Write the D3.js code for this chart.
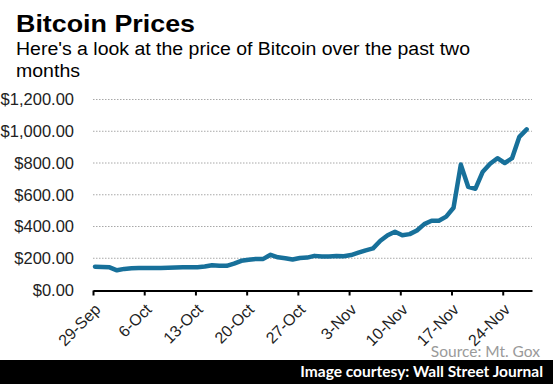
<!DOCTYPE html>
<html>
<head>
<meta charset="utf-8">
<script src="https://cdnjs.cloudflare.com/ajax/libs/d3/7.8.5/d3.min.js"></script>
<style>
  body { margin: 0; background: #fff; }
  svg { display: block; }
</style>
</head>
<body>
<div id="chartId"></div>
<script>
// daily Mt. Gox close, 29-Sep to 27-Nov
var startDate = "2013-09-29";
var prices = [147, 145, 143, 124, 133, 137, 138, 139, 139, 139,
              140, 142, 143, 143, 144, 148, 156, 153, 152, 166,
              184, 190, 196, 196, 222, 206, 200, 192, 202, 204,
              215, 211, 211, 214, 213, 220, 235, 250, 262, 310,
              345, 367, 345, 352, 375, 415, 436, 436, 462, 518,
              790, 650, 638, 745, 795, 830, 800, 830, 965, 1012];
var yTicks = [0, 200, 400, 600, 800, 1000, 1200];
var xTickLabels = ["29-Sep", "6-Oct", "13-Oct", "20-Oct", "27-Oct", "3-Nov", "10-Nov", "17-Nov", "24-Nov"];

var width = 553, height = 384;
var parse = d3.timeParse("%Y-%m-%d");
var t0 = parse(startDate);

var data = prices.map(function(p, i) {
    return { date: d3.timeDay.offset(t0, i), value: p };
});

var svg = d3.select("#chartId").append("svg")
    .attr("width", width)
    .attr("height", height);

var x = d3.scaleTime()
    .domain([t0, d3.timeDay.offset(t0, 60)])
    .range([93, 532]);

var y = d3.scaleLinear()
    .domain([0, 1200])
    .range([290, 99.5]);

// title + subtitle (stretched a little, the original font is wider)
svg.append("text")
    .attr("x", 16).attr("y", 32)
    .style("font-family", "Liberation Sans, Arial, sans-serif")
    .style("font-weight", "bold")
    .style("font-size", "24px")
    .attr("textLength", 179)
    .attr("lengthAdjust", "spacingAndGlyphs")
    .attr("fill", "#000")
    .text("Bitcoin Prices");

svg.append("text")
    .attr("x", 16).attr("y", 55)
    .style("font-family", "Liberation Sans, Arial, sans-serif")
    .style("font-size", "18px")
    .attr("textLength", 454)
    .attr("lengthAdjust", "spacingAndGlyphs")
    .attr("fill", "#000")
    .text("Here's a look at the price of Bitcoin over the past two");

svg.append("text")
    .attr("x", 16).attr("y", 77)
    .style("font-family", "Liberation Sans, Arial, sans-serif")
    .style("font-size", "18px")
    .attr("textLength", 64)
    .attr("lengthAdjust", "spacingAndGlyphs")
    .attr("fill", "#000")
    .text("months");

// dotted gridlines
svg.append("g")
    .selectAll("line")
    .data(yTicks.filter(function(d) { return d > 0; }))
    .enter()
    .append("line")
    .attr("x1", 93).attr("x2", 532)
    .attr("y1", function(d) { return y(d); })
    .attr("y2", function(d) { return y(d); })
    .attr("stroke", "#a8a8a8")
    .attr("stroke-width", 1)
    .attr("stroke-dasharray", "1.5,1.5");

// y labels
var yAxis = svg.append("g")
    .attr("transform", "translate(76,0)")
    .call(d3.axisLeft(y).tickValues(yTicks).tickSize(0).tickPadding(2)
        .tickFormat(function(d) { return "$" + d3.format(",.2f")(d); }));
yAxis.select(".domain").remove();
yAxis.selectAll("text")
    .style("font-family", "Liberation Sans, Arial, sans-serif")
    .style("font-size", "16.5px")
    .attr("fill", "#222");

// x axis
var tickDates = xTickLabels.map(function(d, i) { return d3.timeDay.offset(t0, i * 7); });
var xAxis = svg.append("g")
    .attr("transform", "translate(0,290.5)")
    .call(d3.axisBottom(x).tickValues(tickDates).tickSizeInner(5).tickSizeOuter(0)
        .tickFormat(function(d, i) { return xTickLabels[i]; }));
xAxis.select(".domain").attr("stroke", "#000").attr("stroke-width", 2);
xAxis.selectAll(".tick line").attr("stroke", "#000").attr("stroke-width", 2);
xAxis.selectAll("text")
    .style("font-family", "Liberation Sans, Arial, sans-serif")
    .style("font-size", "16px")
    .attr("fill", "#222")
    .attr("text-anchor", "end")
    .attr("dy", null)
    .attr("transform", "translate(5,17) rotate(-45)")
    .attr("y", 0).attr("x", 0)
    .attr("dominant-baseline", "middle");

// price line
var line = d3.line()
    .x(function(d) { return x(d.date) + 2; })
    .y(function(d) { return y(d.value); });

svg.append("path")
    .datum(data)
    .attr("d", line)
    .attr("fill", "none")
    .attr("stroke", "#17709a")
    .attr("stroke-width", 4.5)
    .attr("stroke-linejoin", "round")
    .attr("stroke-linecap", "round");

// source
svg.append("text")
    .attr("x", 540).attr("y", 357)
    .attr("text-anchor", "end")
    .style("font-family", "Lato, Open Sans, sans-serif")
    .style("font-size", "15.5px")
    .attr("fill", "#9a9a9a")
    .text("Source: Mt. Gox");

// footer bar
svg.append("rect")
    .attr("x", 0).attr("y", 360)
    .attr("width", width).attr("height", 24)
    .attr("fill", "#000");

svg.append("text")
    .attr("x", 543).attr("y", 377)
    .attr("text-anchor", "end")
    .style("font-family", "Lato, Open Sans, sans-serif")
    .style("font-weight", "bold")
    .style("font-size", "15.5px")
    .attr("fill", "#fff")
    .text("Image courtesy: Wall Street Journal");
</script>
</body>
</html>
